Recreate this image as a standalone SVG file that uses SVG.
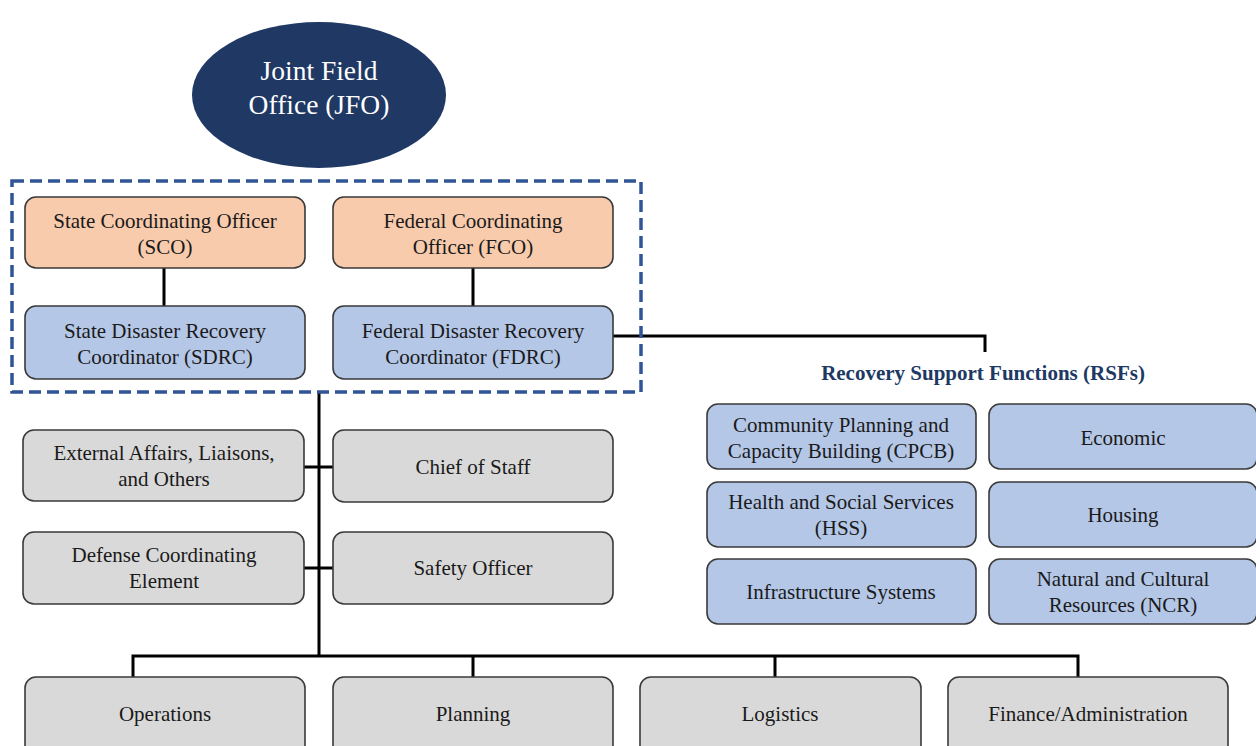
<svg xmlns="http://www.w3.org/2000/svg" width="1256" height="746" viewBox="0 0 1256 746">
<style>
.box{stroke:#3a3a3a;stroke-width:1.6}
.peach{fill:#F8CBAD}
.blue{fill:#B4C7E7}
.gray{fill:#D9D9D9}
text{font-family:"Liberation Serif","Times New Roman",serif;font-size:21px;fill:#1a1a1a;text-anchor:middle}
.conn{stroke:#000;stroke-width:3;fill:none}
</style>
<rect width="1256" height="746" fill="#fff"/>
<g id="connectors">
<path class="conn" d="M164 268V306M473 268V306"/>
<path class="conn" d="M613 336H985V352"/>
<path class="conn" d="M319 392V656M304 467H333M304 568H333"/>
<path class="conn" d="M133 677V656H1078V677M473 656V677M775 656V677"/>
</g>
<g id="jfo">
<ellipse cx="319" cy="95" rx="127" ry="73" fill="#203864"/>
<text x="319" y="80" style="font-size:27.5px;fill:#fff">Joint Field</text>
<text x="319" y="114" style="font-size:27.5px;fill:#fff">Office (JFO)</text>
</g>
<g id="leadership">
<rect x="12" y="181" width="629" height="211" fill="none" stroke="#2F5597" stroke-width="3.5" stroke-dasharray="12 6"/>
</g>
<g id="sco">
<rect class="box peach" x="25" y="197" width="280" height="71" rx="11"/>
<text x="165" y="228">State Coordinating Officer</text>
<text x="165" y="254">(SCO)</text>
</g>
<g id="fco">
<rect class="box peach" x="333" y="197" width="280" height="71" rx="11"/>
<text x="473" y="228">Federal Coordinating</text>
<text x="473" y="254">Officer (FCO)</text>
</g>
<g id="sdrc">
<rect class="box blue" x="25" y="306" width="280" height="73" rx="11"/>
<text x="165" y="338">State Disaster Recovery</text>
<text x="165" y="364">Coordinator (SDRC)</text>
</g>
<g id="fdrc">
<rect class="box blue" x="333" y="306" width="280" height="73" rx="11"/>
<text x="473" y="338">Federal Disaster Recovery</text>
<text x="473" y="364">Coordinator (FDRC)</text>
</g>
<g id="rsf-title">
<text x="983" y="380" style="font-weight:bold;fill:#203864;font-size:21px">Recovery Support Functions (RSFs)</text>
</g>
<g id="cpcb">
<rect class="box blue" x="707" y="404" width="269" height="65" rx="11"/>
<text x="841" y="432">Community Planning and</text>
<text x="841" y="458">Capacity Building (CPCB)</text>
</g>
<g id="economic">
<rect class="box blue" x="989" y="404" width="268" height="65" rx="11"/>
<text x="1123" y="445">Economic</text>
</g>
<g id="hss">
<rect class="box blue" x="707" y="482" width="269" height="65" rx="11"/>
<text x="841" y="509">Health and Social Services</text>
<text x="841" y="535">(HSS)</text>
</g>
<g id="housing">
<rect class="box blue" x="989" y="482" width="268" height="65" rx="11"/>
<text x="1123" y="522">Housing</text>
</g>
<g id="infrastructure">
<rect class="box blue" x="707" y="559" width="269" height="65" rx="11"/>
<text x="841" y="599">Infrastructure Systems</text>
</g>
<g id="ncr">
<rect class="box blue" x="989" y="559" width="268" height="65" rx="11"/>
<text x="1123" y="586">Natural and Cultural</text>
<text x="1123" y="612">Resources (NCR)</text>
</g>
<g id="external">
<rect class="box gray" x="23" y="430" width="281" height="71" rx="11"/>
<text x="164" y="460">External Affairs, Liaisons,</text>
<text x="164" y="486">and Others</text>
</g>
<g id="chief">
<rect class="box gray" x="333" y="430" width="280" height="72" rx="11"/>
<text x="473" y="474">Chief of Staff</text>
</g>
<g id="defense">
<rect class="box gray" x="23" y="532" width="281" height="72" rx="11"/>
<text x="164" y="562">Defense Coordinating</text>
<text x="164" y="588">Element</text>
</g>
<g id="safety">
<rect class="box gray" x="333" y="532" width="280" height="72" rx="11"/>
<text x="473" y="575">Safety Officer</text>
</g>
<g id="operations">
<rect class="box gray" x="25" y="677" width="280" height="80" rx="11"/>
<text x="165" y="721">Operations</text>
</g>
<g id="planning">
<rect class="box gray" x="333" y="677" width="280" height="80" rx="11"/>
<text x="473" y="721">Planning</text>
</g>
<g id="logistics">
<rect class="box gray" x="640" y="677" width="281" height="80" rx="11"/>
<text x="780" y="721">Logistics</text>
</g>
<g id="finance">
<rect class="box gray" x="948" y="677" width="280" height="80" rx="11"/>
<text x="1088" y="721">Finance/Administration</text>
</g>
</svg>
